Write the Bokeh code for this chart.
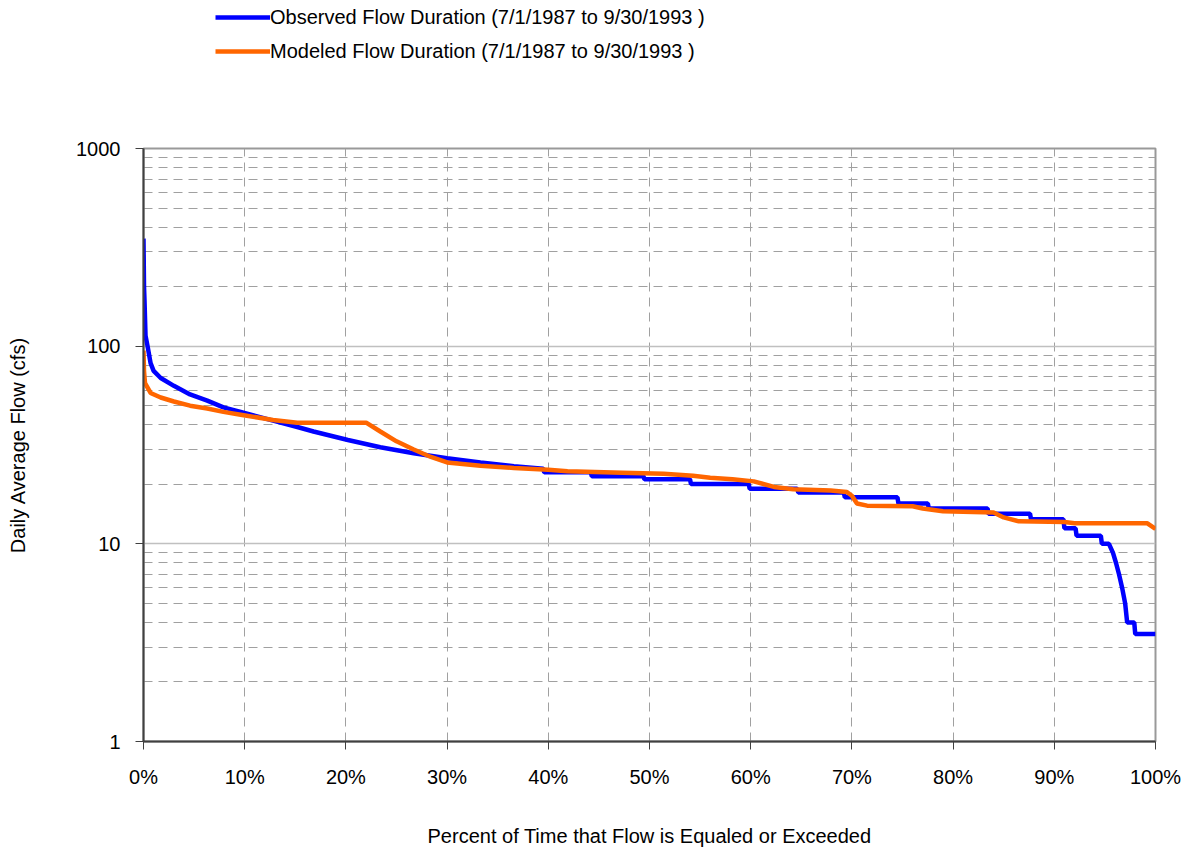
from bokeh.plotting import figure
from bokeh.layouts import column
from bokeh.models import (FixedTicker, CustomJSTickFormatter, Legend, LegendItem, Range1d)
from bokeh.embed import file_html
from bokeh.resources import INLINE

# Observed flow duration (percent exceedance, cfs)
obs_pct = [0, 0.05, 0.1, 0.2, 0.4, 0.7, 1.0, 1.7, 3.0, 4.6, 6.3, 7.9, 9.6, 12.8, 15.2, 16.8,
           20.2, 23.4, 26.7, 30.0, 33.3, 36.6, 39.5, 39.6, 44.2, 44.3, 49.4, 49.5, 54.0, 54.1,
           59.8, 59.9, 64.6, 64.7, 69.2, 69.3, 74.5, 74.6, 77.5, 77.6, 83.4, 83.5, 87.6, 87.7,
           90.9, 91.0, 92.1, 92.2, 94.6, 94.7, 95.4, 95.8, 96.1, 96.4, 96.7, 97.0, 97.2, 97.9,
           98.0, 100]
obs_flow = [350, 200, 170, 113, 100, 82, 75, 69, 63, 57, 53, 49, 46.5, 42, 39, 37,
            33.5, 30.8, 28.7, 27.1, 25.8, 24.7, 24.0, 23.0, 23.0, 22.0, 22.0, 21.2, 21.2, 20.1,
            20.1, 19.0, 19.0, 18.2, 18.2, 17.2, 17.2, 16.0, 16.0, 15.1, 15.1, 14.2, 14.2, 13.3,
            13.3, 12.0, 12.0, 11.0, 11.0, 10.0, 10.0, 9.0, 8.0, 7.0, 6.0, 5.0, 4.0, 4.0,
            3.5, 3.5]

# Modeled flow duration
mod_pct = [0, 0.05, 0.15, 0.7, 1.7, 3.0, 4.6, 6.3, 7.9, 9.6, 12.8, 15.2, 22.0, 23.4, 25.0,
           26.7, 28.4, 30.0, 33.3, 36.6, 40.0, 41.9, 47.3, 51.4, 54.3, 56.0, 58.2, 60.3, 62.3,
           64.2, 67.9, 69.5, 70.0, 70.5, 71.5, 76.0, 77.0, 79.0, 84.0, 85.0, 86.5, 91.0, 92.0,
           99.2, 100]
mod_flow = [95, 75, 65, 58, 55, 52.5, 50, 48.4, 46.5, 45, 42.3, 41, 41, 37, 33,
            30, 27.5, 25.8, 24.8, 24.2, 23.7, 23.3, 22.9, 22.6, 22.1, 21.6, 21.2, 20.7, 19.4,
            18.9, 18.6, 18.3, 17.5, 16.0, 15.6, 15.5, 15.1, 14.6, 14.4, 13.6, 13.0, 12.9, 12.7,
            12.7, 11.9]

x_ticks = [0, 10, 20, 30, 40, 50, 60, 70, 80, 90, 100]
y_ticks = [1, 10, 100, 1000]
y_minor = [m * d for d in (1, 10, 100) for m in range(2, 10)]

obs_label = "Observed Flow Duration (7/1/1987 to 9/30/1993 )"
mod_label = "Modeled Flow Duration (7/1/1987 to 9/30/1993 )"

FONT = "Liberation Sans"
OBS_COLOR = "#0000FF"
MOD_COLOR = "#FF6600"
LW = 4.5

# ---------------- legend strip (separate figure on top) ----------------
top = figure(width=1192, height=80, x_range=Range1d(-20, -10), y_range=Range1d(-20, -10),
             output_backend="svg", toolbar_location=None,
             x_axis_location=None, y_axis_location=None,
             min_border=0, min_border_left=0, min_border_right=0,
             min_border_top=0, min_border_bottom=0)
top.title.visible = False
top.grid.visible = False
top.outline_line_color = None
top_obs = top.line(obs_pct, obs_flow, line_color=OBS_COLOR, line_width=LW)
top_mod = top.line(mod_pct, mod_flow, line_color=MOD_COLOR, line_width=LW)
legend = Legend(items=[LegendItem(label=obs_label, renderers=[top_obs]),
                       LegendItem(label=mod_label, renderers=[top_mod])],
                location=(72, 12), padding=0, margin=0, spacing=0,
                border_line_color=None, background_fill_alpha=0,
                glyph_width=55, glyph_height=34, label_height=34,
                label_standoff=0, label_text_font=FONT, label_text_font_size="20px",
                label_text_color="black")
top.add_layout(legend, "center")

# ---------------- main chart ----------------
p = figure(width=1192, height=770, y_axis_type="log",
           x_range=Range1d(0, 100), y_range=Range1d(1, 1000),
           output_backend="svg", toolbar_location=None,
           min_border_left=143, min_border_right=37, min_border_top=68, min_border_bottom=109)
p.title.visible = False

p.outline_line_color = "#999999"
p.outline_line_width = 2
p.background_fill_color = "white"

p.xaxis.ticker = FixedTicker(ticks=x_ticks)
p.xaxis.formatter = CustomJSTickFormatter(code="return tick.toFixed(0) + '%';")
p.xaxis.axis_label = "Percent of Time that Flow is Equaled or Exceeded"
p.yaxis.ticker = FixedTicker(ticks=y_ticks, minor_ticks=y_minor)
p.yaxis.formatter = CustomJSTickFormatter(code="return tick.toFixed(0);")
p.yaxis.axis_label = "Daily Average Flow (cfs)"

for ax in (p.xaxis[0], p.yaxis[0]):
    ax.axis_line_color = "#404040"
    ax.axis_line_width = 2
    ax.major_tick_line_color = "#404040"
    ax.major_tick_line_width = 1
    ax.major_tick_out = 8
    ax.major_tick_in = 0
    ax.minor_tick_line_color = None
    ax.major_label_text_font = FONT
    ax.major_label_text_font_size = "20px"
    ax.major_label_text_color = "black"
    ax.axis_label_text_font = FONT
    ax.axis_label_text_font_size = "20px"
    ax.axis_label_text_font_style = "normal"
    ax.axis_label_text_color = "black"

p.xaxis.major_label_standoff = 16
p.xaxis.axis_label_standoff = 34
p.yaxis.major_label_standoff = 15
p.yaxis.axis_label_standoff = 44

p.xgrid.grid_line_color = "#a0a0a0"
p.xgrid.grid_line_dash = "9 6"
p.xgrid.grid_line_width = 1
p.ygrid.grid_line_color = "#c0c0c0"
p.ygrid.grid_line_width = 1.5
p.ygrid.minor_grid_line_color = "#a0a0a0"
p.ygrid.minor_grid_line_dash = "9 6"
p.ygrid.minor_grid_line_width = 1

p.line(obs_pct, obs_flow, line_color=OBS_COLOR, line_width=LW)
p.line(mod_pct, mod_flow, line_color=MOD_COLOR, line_width=LW)

layout = column(top, p, spacing=0)
open("out.html", "w").write(file_html(layout, INLINE))
